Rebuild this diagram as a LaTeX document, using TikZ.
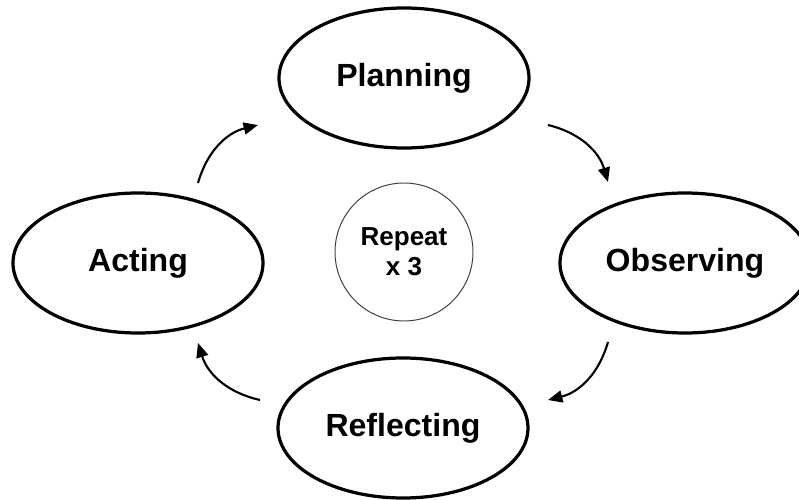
\documentclass[tikz,border=0pt]{standalone}
\usepackage{fontspec}
\setmainfont{Liberation Sans}
\usepackage{tikz}
\usetikzlibrary{shapes.geometric, arrows.meta, positioning}

\begin{document}
\begin{tikzpicture}[
    phase/.style={ellipse, draw=black, line width=2.3pt, fill=white,
                  minimum width=6.25cm, minimum height=3.5cm, inner sep=0pt,
                  font=\fontsize{22.8}{27}\selectfont\bfseries},
    hub/.style={circle, draw=black!75, line width=0.7pt,
                minimum size=3.45cm, inner sep=0pt, align=center,
                font=\fontsize{18.5}{21.3}\selectfont\bfseries},
    cyc/.style={-{Triangle[length=3.6mm,width=3mm]}, line width=1.5pt,
                bend left=30}
]
\clip (-10.1,-5.925) rectangle (9.875,6.575);

\node[phase] (plan)    at (0, 4.625)     {Planning};
\node[phase] (observe) at (7.025, 0)     {Observing};
\node[phase] (reflect) at (-0.025,-4.125) {Reflecting};
\node[phase] (act)     at (-6.65, 0)     {Acting};

\node[hub] (repeat) at (0, 0.275) {Repeat\\x 3};

% arrow ends between the phases
\coordinate (tl-a) at (-5.15, 2.0);
\coordinate (tl-b) at (-3.65, 3.45);
\coordinate (tr-a) at (3.6, 3.45);
\coordinate (tr-b) at (5.1, 2.025);
\coordinate (br-a) at (5.1, -1.975);
\coordinate (br-b) at (3.6, -3.425);
\coordinate (bl-a) at (-3.6, -3.425);
\coordinate (bl-b) at (-5.15, -2.0);

\draw[cyc] (tl-a) to (tl-b);
\draw[cyc] (tr-a) to (tr-b);
\draw[cyc] (br-a) to (br-b);
\draw[cyc] (bl-a) to (bl-b);
\end{tikzpicture}
\end{document}
